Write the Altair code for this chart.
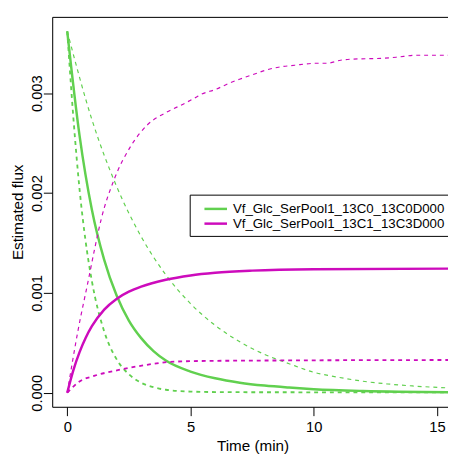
import altair as alt
import pandas as pd

S1 = "Vf_Glc_SerPool1_13C0_13C0D000"
S2 = "Vf_Glc_SerPool1_13C1_13C3D000"
GREEN = "#61D04F"
MAGENTA = "#CD0BBC"

# green estimate (solid)
g_est_t = [0, 0.5, 1.0, 1.5, 2.0, 2.5, 3.0, 3.5, 4.0, 5.0, 6.0, 7.0, 8.0, 9.0, 10.0, 12.0, 15.45]
g_est_v = [0.00362, 0.002575, 0.001833, 0.001331, 0.000976, 0.000723, 0.000547, 0.000417, 0.000322,
           0.000212, 0.000145, 0.000101, 0.000072, 0.000052, 0.000036, 0.000018, 0.000006]
# green upper bound (dashed, slow decay)
g_hi_t = [0, 1, 2, 3, 4, 5, 6, 7, 8, 9, 10, 11, 12, 13, 14, 15.45]
g_hi_v = [0.00362, 0.002736, 0.002068, 0.001563, 0.001181, 0.000893, 0.000675, 0.00051, 0.000385,
          0.000291, 0.000205, 0.000155, 0.000115, 0.000088, 0.000068, 0.000049]
# green lower bound (dashed, fast decay)
g_lo_t = [0, 0.25, 0.5, 0.75, 1.0, 1.5, 2.0, 2.5, 3.0, 3.5, 4.0, 5.0, 6.0, 8.0, 15.45]
g_lo_v = [0.00362, 0.00275, 0.002037, 0.001509, 0.001118, 0.000614, 0.000337, 0.000185, 0.0001,
          0.000055, 0.00003, 0.000012, 0.000007, 0.000005, 0.000004]
# magenta estimate (solid)
m_est_t = [0, 0.25, 0.5, 0.75, 1.0, 1.5, 2.0, 2.5, 3.0, 4.0, 5.0, 6.0, 7.5, 10.0, 15.45]
m_est_v = [0, 0.000227, 0.000407, 0.000551, 0.000666, 0.000833, 0.00094, 0.001012, 0.001063, 0.001132,
           0.001175, 0.0012015, 0.001223, 0.001237, 0.001243]
# magenta upper bound (dashed)
m_hi_t = [0, 0.45, 0.85, 1.12, 1.38, 1.91, 2.58, 3.24, 4.04, 4.70, 5.23, 5.45, 6.04, 6.31, 6.57, 7.11,
          7.7, 8.04, 8.57, 9.23, 10.16, 10.56, 11.09, 11.49, 12.8, 13.35, 14.14, 15.45]
m_hi_v = [0, 0.00064, 0.00112, 0.00145, 0.00174, 0.00214, 0.00247, 0.00268, 0.00281, 0.00289, 0.00296,
          0.00299, 0.00304, 0.00307, 0.0031, 0.00315, 0.0032, 0.00323, 0.00326, 0.00328, 0.0033, 0.0033,
          0.00333, 0.00334, 0.00335, 0.00336, 0.00338, 0.00338]
# magenta lower bound (dashed)
m_lo_t = [0, 0.2, 0.45, 1.12, 2.05, 3.11, 4.17, 5.37, 7.5, 10.16, 15.45]
m_lo_v = [0, 0.00005, 0.000105, 0.000171, 0.000226, 0.000275, 0.000309, 0.000318, 0.000322, 0.000325, 0.000328]

rows = []
for series, kind, ts, vs in [
    (S1, "est", g_est_t, g_est_v), (S1, "hi", g_hi_t, g_hi_v), (S1, "lo", g_lo_t, g_lo_v),
    (S2, "est", m_est_t, m_est_v), (S2, "hi", m_hi_t, m_hi_v), (S2, "lo", m_lo_t, m_lo_v),
]:
    for t, v in zip(ts, vs):
        rows.append({"t": t, "v": v, "series": series, "kind": kind, "line": series + "_" + kind})
df = pd.DataFrame(rows)

FONT = "Liberation Sans"
xscale = alt.Scale(domain=[-0.61, 15.446], nice=False, zero=False)
yscale = alt.Scale(domain=[-0.0001407, 0.0037639], nice=False, zero=False)

base = alt.Chart(df)

lines = base.mark_line(interpolate="monotone", clip=True).encode(
    x=alt.X("t:Q", scale=xscale, axis=alt.Axis(
        values=[0, 5, 10, 15], format="d", tickSize=9, tickColor="black", domainColor="black",
        labelFontSize=15, labelBaseline="alphabetic", labelPadding=16, labelFlush=False,
        labelColor="black", title="Time (min)", titleFontSize=15.5, titleFontWeight="normal",
        titleBaseline="alphabetic", titleX=204, titleY=45, titleColor="black", grid=False)),
    y=alt.Y("v:Q", scale=yscale, axis=alt.Axis(
        values=[0, 0.001, 0.002, 0.003], format=".3f", tickSize=9, tickColor="black",
        domainColor="black", labelFontSize=15, labelAngle=270, labelAlign="center",
        labelBaseline="alphabetic", labelPadding=2, labelColor="black", title="Estimated flux",
        titleFontSize=15.5, titleFontWeight="normal", titleAngle=270, titleAlign="center",
        titleBaseline="alphabetic", titleX=-30, titleY=198.5, titleColor="black", grid=False)),
    color=alt.Color("series:N", scale=alt.Scale(domain=[S1, S2], range=[GREEN, MAGENTA]),
                    legend=alt.Legend(title=None, orient="none", legendX=140, legendY=181,
                                      direction="vertical", strokeColor="black", fillColor="white",
                                      padding=6, labelFont=FONT, labelFontSize=13.5, labelLimit=600,
                                      labelColor="black", symbolType="M-1.64,0H1.64", symbolSize=196,
                                      symbolStrokeWidth=2.5, symbolOffset=12, labelOffset=9,
                                      rowPadding=0)),
    strokeDash=alt.StrokeDash("kind:N", scale=alt.Scale(domain=["est", "lo", "hi"],
                                                        range=[[], [4, 4], [4, 4]]), legend=None),
    strokeWidth=alt.StrokeWidth("kind:N", scale=alt.Scale(domain=["est", "lo", "hi"],
                                                          range=[2.5, 1.2, 1.2]), legend=None),
    detail="line:N",
    order="t:Q",
)

frame_top = base.mark_line(opacity=0).encode(
    x=alt.X("t:Q", scale=xscale, axis=alt.Axis(orient="top", labels=False, ticks=False, domain=True,
                                               domainColor="black", title=None, grid=False)),
    y=alt.Y("v:Q", scale=yscale, axis=None),
    detail="line:N",
)

chart = alt.layer(lines, frame_top).resolve_axis(x="independent", y="independent").properties(
    width=403, height=397,
    autosize=alt.AutoSizeParams(type="none"),
    padding={"left": 45, "top": 5, "right": 0, "bottom": 44},
).configure_view(stroke=None).configure(font=FONT).configure_axis(labelFont=FONT, titleFont=FONT)

chart.save("out.html", embed_options={"renderer": "svg", "actions": False})
